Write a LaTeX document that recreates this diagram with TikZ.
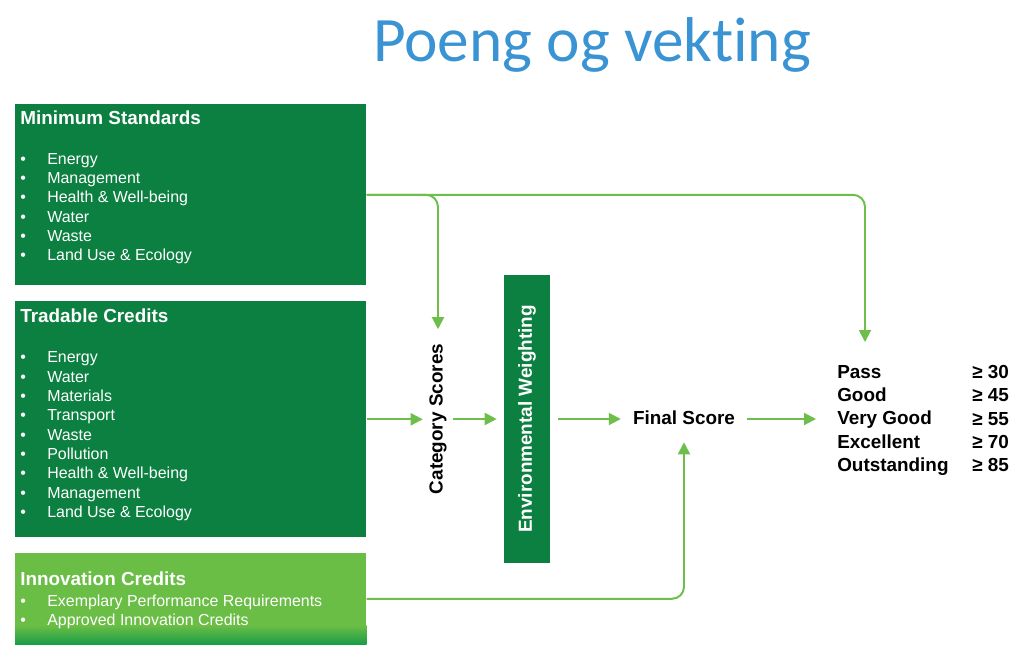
\documentclass[tikz,border=0pt]{standalone}
\usepackage{fontspec}
\setmainfont{Liberation Sans}
\newfontfamily\titlefont[Ligatures=NoCommon]{Carlito}
\usepackage{xcolor}
\usepackage{tikz}
\usetikzlibrary{arrows.meta}
\definecolor{breeamgreen}{RGB}{12,128,65}
\definecolor{breeamlight}{RGB}{106,189,69}
\definecolor{breeamdeep}{RGB}{24,156,72}
\definecolor{flowgreen}{RGB}{109,190,75}
\definecolor{titleblue}{RGB}{58,148,212}
\newcommand{\boxhead}[1]{{\fontsize{13.44}{16}\selectfont\bfseries #1}}
\newcommand{\bitem}[1]{\makebox[0.675cm][l]{\textbullet}#1}
\tikzset{
  catbox/.style={fill=breeamgreen, minimum width=8.775cm, inner sep=0pt, anchor=north west},
  cattext/.style={anchor=north west, text=white, align=left, inner xsep=0.125cm, inner ysep=0.16cm, font=\fontsize{11.35}{13.73}\selectfont},
  stage/.style={font=\fontsize{13.44}{16}\selectfont\bfseries},
  rating/.style={anchor=north west, align=left, inner ysep=0.525cm, font=\fontsize{13.44}{16.54}\selectfont\bfseries},
  arrow/.style={-{Triangle[length=0.3cm,width=0.3cm]}, line width=1.4pt, draw=flowgreen},
  bendarrow/.style={arrow, rounded corners=0.3cm}
}
\begin{document}
\begin{tikzpicture}[x=0.025cm,y=-0.025cm]
  \useasboundingbox (0,0) rectangle (1020,651);
  \node[anchor=base, text=titleblue, font=\titlefont\fontsize{45}{54}\selectfont] (title) at (592,61) {Poeng og vekting};

  \node[catbox, minimum height=4.525cm] (minstd) at (15,104) {};
  \node[cattext] (minstdtxt) at (minstd.north west) {\boxhead{Minimum Standards}\\[14.7pt]
    \bitem{Energy}\\ \bitem{Management}\\ \bitem{Health \& Well-being}\\ \bitem{Water}\\ \bitem{Waste}\\ \bitem{Land Use \& Ecology}};

  \node[catbox, minimum height=5.9cm] (trad) at (15,301) {};
  \node[cattext, inner ysep=0.2cm] (tradtxt) at (trad.north west) {\boxhead{Tradable Credits}\\[14.7pt]
    \bitem{Energy}\\ \bitem{Water}\\ \bitem{Materials}\\ \bitem{Transport}\\ \bitem{Waste}\\ \bitem{Pollution}\\ \bitem{Health \& Well-being}\\ \bitem{Management}\\ \bitem{Land Use \& Ecology}};

  \node[catbox, fill=breeamlight, minimum height=2.275cm] (inno) at (15,553) {};
  \shade[top color=breeamlight, bottom color=breeamdeep] ([yshift=0.475cm]inno.south west) rectangle (inno.south east);
  \node[cattext, inner ysep=0.46cm] (innotxt) at (inno.north west) {\boxhead{Innovation Credits}\\[1.2pt]
    \bitem{Exemplary Performance Requirements}\\ \bitem{Approved Innovation Credits}};

  \node[stage, rotate=90, inner sep=0.16cm] (catscore) at (438,419) {Category Scores};
  \node[stage, fill=breeamgreen, text=white, rotate=90, minimum width=7.2cm, minimum height=1.15cm, inner sep=0pt] (envw) at (527,419) {Environmental Weighting};
  \node[stage, inner xsep=0.3cm, inner ysep=0.35cm, text height=0.35cm, text depth=0.1cm] (final) at (684,419) {Final Score};

  \node[rating, inner xsep=0.525cm] (rate) at (816,344) {Pass\\Good\\Very Good\\Excellent\\Outstanding};
  \node[rating, inner xsep=0pt] (score) at (972,344) {≥ 30\\≥ 45\\≥ 55\\≥ 70\\≥ 85};
  \coordinate (passtop) at (865,342);

  \draw[bendarrow, shorten >=0.2cm] (minstd.east) -| (catscore.east);
  \draw[bendarrow] (minstd.east) -| (passtop);
  \draw[arrow] (trad.east) -- (trad.east -| catscore.north);
  \draw[arrow, shorten >=0.175cm] (catscore.south) -- (envw.north);
  \draw[arrow, shorten <=0.2cm] (envw.south) -- (final.west);
  \draw[arrow] (final.east) -- (final.east -| rate.west);
  \draw[bendarrow] (inno.east) -| (final.south);
\end{tikzpicture}
\end{document}
